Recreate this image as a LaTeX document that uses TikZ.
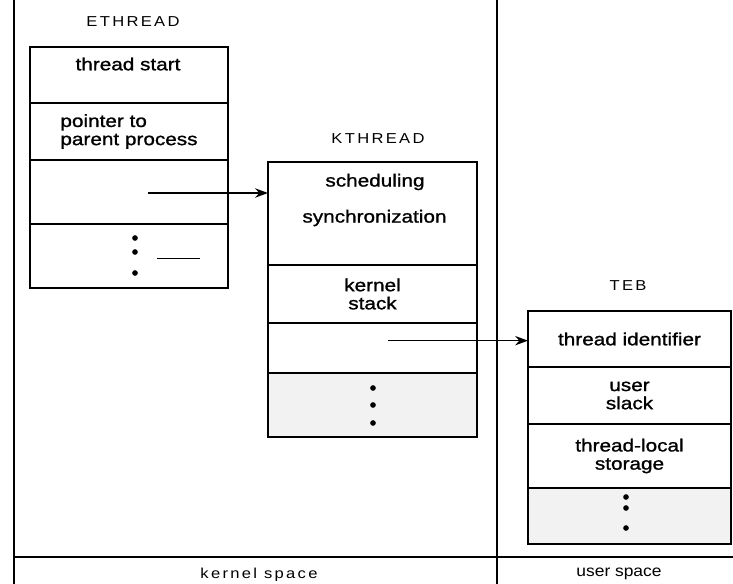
\documentclass[tikz,border=0pt]{standalone}
\usepackage{fontspec}
\setmainfont[FakeStretch=1.18,FakeBold=1.2]{Liberation Sans}
\newfontfamily\spacedfont[FakeStretch=1.15,LetterSpace=16]{Liberation Sans}
\newfontfamily\plainfont[FakeStretch=1.1]{Liberation Sans}
\usetikzlibrary{arrows.meta,positioning,calc}

\begin{document}
\begin{tikzpicture}[
  field/.style={draw, line width=1.2pt, outer sep=0pt, inner sep=0pt, align=center,
    font=\fontsize{15}{15.5}\selectfont},
  ethread/.style={field, minimum width=5.94cm},
  kthread/.style={field, minimum width=6.27cm},
  teb/.style={field, minimum width=6.09cm},
  more/.style={fill=gray!10},
  txt/.style={font=\fontsize{15}{15.5}\selectfont, inner sep=0pt},
  title/.style={font=\spacedfont\fontsize{12.3}{14}\selectfont, inner sep=0pt},
  dot/.style={circle, fill, inner sep=1.7pt},
  ptr/.style={line width=1.2pt, -{Stealth[length=11pt, width=8pt]}},
  frame/.style={line width=0.9pt}
]
\useasboundingbox (0,0) rectangle (21.99,-17.52);

%================================================
% FRAME:  kernel space | user space
%================================================
\draw[frame] (0.42,0) -- (0.42,-17.52);
\draw[frame] (14.91,0) -- (14.91,-17.52);
\draw[frame] (0.42,-16.71) -- (21.99,-16.71);

\node[title] (kspace) at (7.77,-17.25) {kernel space};
\node[font=\plainfont\fontsize{13.5}{14}\selectfont, inner sep=0pt] (uspace) at (18.57,-17.22) {user space};

%================================================
% ETHREAD
%================================================
\node[title] (et-title) at (3.99,-0.66) {ETHREAD};

\node[ethread, minimum height=1.68cm, anchor=north] (et-start) at (3.87,-1.41) {};
\node[ethread, minimum height=1.71cm, below=0pt of et-start, align=left]
  (et-parent) {pointer to\\parent process};
\node[ethread, minimum height=1.92cm, below=0pt of et-parent] (et-kt) {};
\node[ethread, minimum height=1.92cm, below=0pt of et-kt] (et-more) {};

\node[txt] (et-start-txt) at (3.84,-1.92) {thread start};

\coordinate (et-ptr) at (4.44,-5.79);

\foreach \y [count=\i] in {-7.14,-7.56,-8.19}
  \node[dot] (et-dot\i) at (4.05,\y) {};
\draw[line width=0.8pt] (4.71,-7.74) -- (6.0,-7.74);

%================================================
% KTHREAD
%================================================
\node[title] (kt-title) at (11.34,-4.17) {KTHREAD};

\node[kthread, minimum height=3.09cm, anchor=north] (kt-sched) at (11.175,-4.86) {};
\node[kthread, minimum height=1.74cm, below=0pt of kt-sched] (kt-stack) {kernel\\stack};
\node[kthread, minimum height=1.5cm, below=0pt of kt-stack] (kt-teb) {};
\node[kthread, more, minimum height=1.92cm, below=0pt of kt-teb] (kt-more) {};

\node[txt] (kt-sched-txt) at (11.25,-5.46) {scheduling};
\node[txt] (kt-sync-txt) at (11.235,-6.54) {synchronization};

\coordinate (kt-ptr) at (11.64,-10.22);

\foreach \y [count=\i] in {-11.64,-12.15,-12.69}
  \node[dot] (kt-dot\i) at (11.19,\y) {};

%================================================
% TEB
%================================================
\node[title] (teb-title) at (18.84,-8.58) {TEB};

\node[teb, minimum height=1.68cm, anchor=north] (teb-id) at (18.885,-9.33) {thread identifier};
\node[teb, minimum height=1.71cm, below=0pt of teb-id] (teb-stack) {user\\slack};
\node[teb, minimum height=1.92cm, below=0pt of teb-stack] (teb-tls) {thread-local\\storage};
\node[teb, more, minimum height=1.68cm, below=0pt of teb-tls] (teb-more) {};

\foreach \y [count=\i] in {-14.91,-15.24,-15.84}
  \node[dot] (teb-dot\i) at (18.78,\y) {};

% pointers
\draw[ptr] (et-ptr) -- (et-ptr -| kt-sched.west);
\draw[ptr] (kt-ptr) -- (kt-ptr -| teb-id.west);

\end{tikzpicture}
\end{document}
